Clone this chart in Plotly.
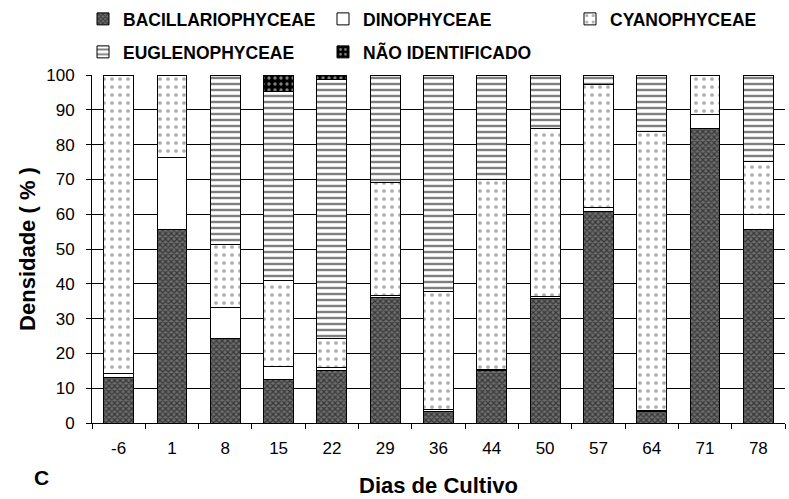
import plotly.graph_objects as go

days = ["-6", "1", "8", "15", "22", "29", "36", "44", "50", "57", "64", "71", "78"]
bacillariophyceae = [13.2, 55.7, 24.2, 12.6, 15.1, 36.2, 3.4, 15.1, 35.8, 60.7, 3.2, 84.7, 55.6]
dinophyceae = [1.0, 20.5, 8.9, 3.5, 0.8, 0.5, 0.4, 0.4, 0.6, 1.1, 0.4, 4.0, 4.3]
cyanophyceae = [85.8, 23.8, 18.2, 24.9, 8.5, 32.4, 34.1, 54.5, 48.3, 35.5, 80.3, 11.3, 15.2]
euglenophyceae = [None, None, 48.7, 54.2, 74.4, 30.9, 62.1, 30.0, 15.3, 2.7, 16.1, None, 24.9]
nao_identificado = [None, None, None, 4.8, 1.2, None, None, None, None, None, None, None, None]

# (name, values, pattern, base colour, legend id, legend x px, legend y px)
series = [
    ("BACILLARIOPHYCEAE", bacillariophyceae,
     dict(shape="x", fgcolor="#000000", bgcolor="#6e6e6e", size=4, solidity=0.5), "#6e6e6e",
     "legend", 83, 19),
    ("DINOPHYCEAE", dinophyceae, None, "white", "legend2", 323, 19),
    ("CYANOPHYCEAE", cyanophyceae,
     dict(shape=".", fgcolor="#555555", bgcolor="white", size=8, solidity=0.17), "white",
     "legend3", 570, 19),
    ("EUGLENOPHYCEAE", euglenophyceae,
     dict(shape="-", fgcolor="#000000", bgcolor="white", size=6, solidity=0.4), "white",
     "legend4", 83, 52),
    ("NÃO IDENTIFICADO", nao_identificado,
     dict(shape=".", fgcolor="white", bgcolor="#000000", size=6, solidity=0.25), "#000000",
     "legend5", 323, 52),
]

font_family = "Liberation Sans, Arial, sans-serif"
W, H = 789, 499

fig = go.Figure()
legends = {}
for name, vals, pattern, color, leg, lx, ly in series:
    marker = dict(color=color, line=dict(color="black", width=1))
    if pattern:
        marker["pattern"] = pattern
    fig.add_trace(go.Bar(x=days, y=vals, name=name, marker=marker, legend=leg, showlegend=True))
    legends[leg] = dict(
        orientation="h",
        xref="container", yref="container",
        x=lx / W, y=1 - ly / H, xanchor="left", yanchor="middle",
        font=dict(family=font_family, size=17.5, color="black", weight="bold"),
        bgcolor="rgba(0,0,0,0)",
    )

fig.update_layout(
    width=W, height=H, showlegend=True,
    barmode="stack", bargap=0.44,
    plot_bgcolor="white", paper_bgcolor="white",
    margin=dict(l=92, r=4, t=75, b=76, autoexpand=False),
    font=dict(family=font_family, size=16, color="black"),
    xaxis=dict(
        type="category", showgrid=False, showline=True, linecolor="black", linewidth=1,
        ticks="outside", tickson="boundaries", ticklen=5, tickcolor="black",
        ticklabelstandoff=10, tickfont=dict(size=17),
        title=dict(text="Dias de Cultivo", font=dict(size=22, weight="bold"), standoff=20),
    ),
    yaxis=dict(
        range=[0, 100], dtick=10, showgrid=True, gridcolor="black", gridwidth=1,
        showline=True, linecolor="black", linewidth=1,
        ticks="outside", ticklen=5, tickcolor="black", ticklabelstandoff=8,
        tickfont=dict(size=17),
        title=dict(text="Densidade ( % )", font=dict(size=22, weight="bold"), standoff=4),
    ),
    annotations=[dict(text="C", xref="paper", yref="paper", x=-0.0725, y=-0.158,
                      xanchor="center", yanchor="middle", showarrow=False,
                      font=dict(size=21, weight="bold"))],
)
fig.update_layout(**legends)

fig.write_html("out.html", config={"displayModeBar": False},
               post_script="document.body.style.margin='0px';")
